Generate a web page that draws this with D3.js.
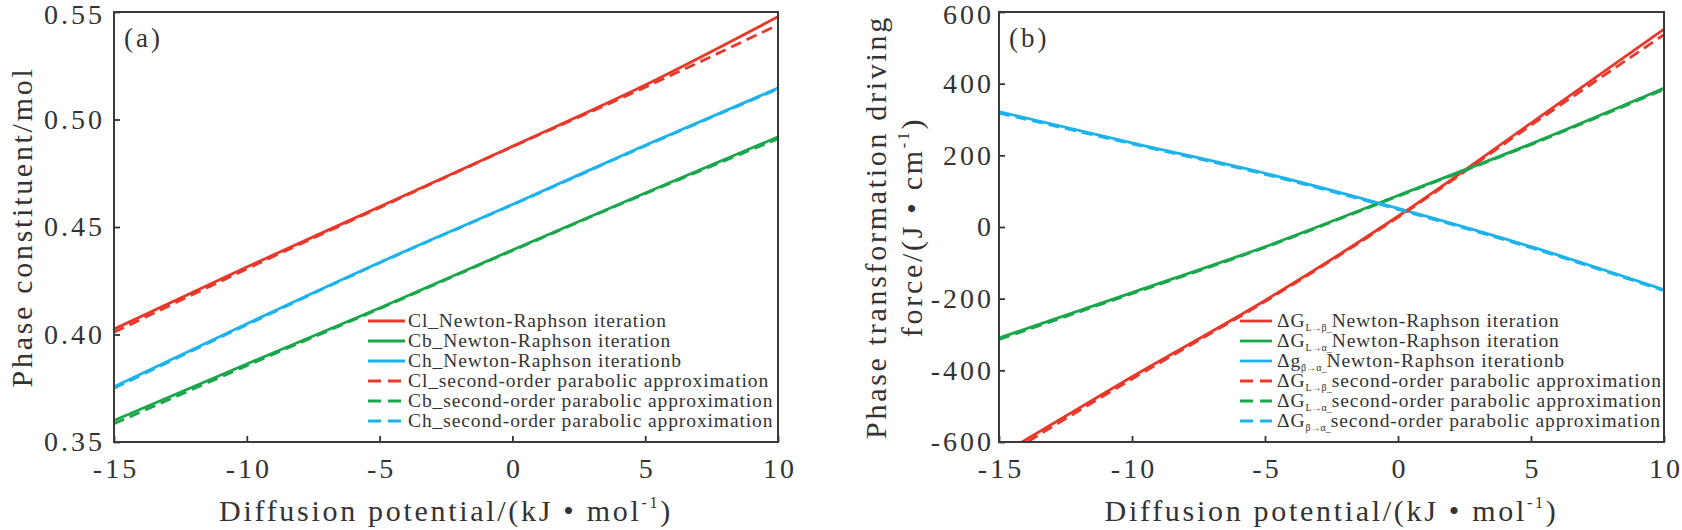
<!DOCTYPE html>
<html><head><meta charset="utf-8">
<script src="https://cdn.jsdelivr.net/npm/d3@7"></script>
<style>
body{margin:0;background:#fff;}
svg text{font-family:"Liberation Serif","Times New Roman",serif;fill:#333;}
</style></head>
<body><svg id="c" width="1682" height="530"></svg>
<script>
// ---------- data ----------
const xVals = [-15, -10, -5, 0, 5, 10];
const xTicks = [-15, -10, -5, 0, 5, 10];

// panel (a): phase constituent / mol
const clNewton = [0.4025, 0.4314, 0.4594, 0.4875, 0.5160, 0.5478];
const cbNewton = [0.3600, 0.3863, 0.4123, 0.4393, 0.4658, 0.4919];
const chNewton = [0.3757, 0.4050, 0.4335, 0.4605, 0.4880, 0.5146];
const clParab  = [0.4010, 0.4305, 0.4590, 0.4873, 0.5150, 0.5440];
const cbParab  = [0.3585, 0.3855, 0.4120, 0.4390, 0.4655, 0.4910];
const chParab  = [0.3750, 0.4045, 0.4333, 0.4603, 0.4877, 0.5142];
const aYTicks = [0.35, 0.40, 0.45, 0.50, 0.55];

// panel (b): phase transformation driving force
const gLbNewton = [-638, -418, -205, 30, 290, 552];
const gLaNewton = [-310, -183, -55, 88, 232, 387];
const gbaNewton = [322, 235, 150, 52, -55, -175];
const gLbParab  = [-648, -424, -208, 27, 284, 537];
const gLaParab  = [-314, -186, -57, 86, 230, 384];
const gbaParab  = [318, 232, 147, 49, -58, -178];
const bYTicks = [-600, -400, -200, 0, 200, 400, 600];

const RED = "#e6392b", GREEN = "#1aa64b", BLUE = "#1db3ea";

const svg = d3.select("#c");

function panel(opt){
  const g = svg.append("g");
  const x = d3.scaleLinear().domain([-15, 10]).range([opt.left, opt.right]);
  const y = d3.scaleLinear().domain(opt.yDomain).range([opt.bottom, opt.top]);
  const clipId = "clip" + opt.id;
  svg.append("clipPath").attr("id", clipId).append("rect")
    .attr("x", opt.left).attr("y", opt.top)
    .attr("width", opt.right - opt.left).attr("height", opt.bottom - opt.top);

  const line = d3.line().x((d,i)=>x(xVals[i])).y(d=>y(d)).curve(d3.curveMonotoneX);
  const lines = g.append("g").attr("clip-path", `url(#${clipId})`);
  opt.series.forEach(s=>{
    lines.append("path").attr("d", line(s.values)).attr("fill","none")
      .attr("stroke", s.color).attr("stroke-width", 2.8)
      .attr("stroke-dasharray", s.dash ? "11,6" : null);
  });

  // axes
  const xa = d3.axisBottom(x).tickValues(xTicks).tickFormat(d=>String(d))
    .tickSizeInner(-6).tickSizeOuter(0).tickPadding(16);
  const gx = g.append("g").attr("transform", `translate(0,${opt.bottom})`).call(xa);
  const ya = d3.axisLeft(y).tickValues(opt.yTicks).tickFormat(opt.yFormat)
    .tickSizeInner(-6).tickSizeOuter(0).tickPadding(opt.yPad);
  const gy = g.append("g").attr("transform", `translate(${opt.left},0)`).call(ya);
  [gx, gy].forEach(a=>{
    a.select(".domain").remove();
    a.selectAll("line").attr("stroke","#333").attr("stroke-width",1.8);
    a.selectAll("text").style("font-size","28px").style("letter-spacing","3px")
      .style("font-family",'"Liberation Serif",serif').attr("fill","#333");
  });
  gx.selectAll("text").attr("dx", "1.5px");
  // keep the top tick label inside the picture
  gy.selectAll(".tick").filter(d => d === opt.yDomain[1]).select("text").attr("dy", "0.42em");

  // frame
  g.append("rect").attr("x", opt.left).attr("y", opt.top)
    .attr("width", opt.right - opt.left).attr("height", opt.bottom - opt.top)
    .attr("fill","none").attr("stroke","#3a3a3a").attr("stroke-width",2);

  // panel label
  g.append("text").attr("x", opt.left + 10).attr("y", 47).text(opt.label)
    .style("font-size","27px").style("letter-spacing","3px");

  // x title
  const xt = g.append("text").attr("x", (opt.left+opt.right)/2).attr("y", 521)
    .attr("text-anchor","middle").style("font-size","30px").style("letter-spacing","2.7px");
  xt.append("tspan").text("Diffusion potential/(kJ \u2022 mol");
  xt.append("tspan").text("-1").style("font-size","16px").attr("dy", -13);
  xt.append("tspan").text(")").attr("dy", 13);

  // legend
  const lg = g.append("g");
  opt.series.forEach((s,i)=>{
    const cy = opt.legTop + i*20;
    lg.append("line").attr("x1", opt.legX1).attr("x2", opt.legX2)
      .attr("y1", cy).attr("y2", cy).attr("stroke", s.color).attr("stroke-width", 2.8)
      .attr("stroke-dasharray", s.dash ? "13,7" : null);
    const t = lg.append("text").attr("x", opt.legText).attr("y", cy + 6)
      .style("font-size","19.5px").style("letter-spacing","0.9px");
    s.label.forEach(p=>{
      const ts = t.append("tspan").text(p.t);
      if (p.sub) ts.style("font-size","10px").attr("dy", 4).style("letter-spacing","0px");
      if (p.back) ts.attr("dy", -4);
    });
  });
  return {g, x, y};
}

const a = panel({
  id:"a", left:114, right:778, top:12, bottom:442,
  yDomain:[0.35, 0.55], yTicks:aYTicks, yFormat:d3.format(".2f"), yPad:9,
  label:"(a)", legX1:368, legX2:405, legText:408, legTop:321,
  series:[
    {values:clNewton, color:RED, dash:false, label:[{t:"Cl_Newton-Raphson iteration"}]},
    {values:cbNewton, color:GREEN, dash:false, label:[{t:"Cb_Newton-Raphson iteration"}]},
    {values:chNewton, color:BLUE, dash:false, label:[{t:"Ch_Newton-Raphson iterationb"}]},
    {values:clParab, color:RED, dash:true, label:[{t:"Cl_second-order parabolic approximation"}]},
    {values:cbParab, color:GREEN, dash:true, label:[{t:"Cb_second-order parabolic approximation"}]},
    {values:chParab, color:BLUE, dash:true, label:[{t:"Ch_second-order parabolic approximation"}]}
  ]
});

const b = panel({
  id:"b", left:999, right:1664, top:12, bottom:442,
  yDomain:[-600, 600], yTicks:bYTicks, yFormat:d=>String(d), yPad:5,
  label:"(b)", legX1:1240, legX2:1272, legText:1277, legTop:321,
  series:[
    {values:gLbNewton, color:RED, dash:false, label:[{t:"\u0394G"},{t:"L\u2192\u03b2_",sub:true},{t:"Newton-Raphson iteration",back:true}]},
    {values:gLaNewton, color:GREEN, dash:false, label:[{t:"\u0394G"},{t:"L\u2192\u03b1_",sub:true},{t:"Newton-Raphson iteration",back:true}]},
    {values:gbaNewton, color:BLUE, dash:false, label:[{t:"\u0394g"},{t:"\u03b2\u2192\u03b1_",sub:true},{t:"Newton-Raphson iterationb",back:true}]},
    {values:gLbParab, color:RED, dash:true, label:[{t:"\u0394G"},{t:"L\u2192\u03b2_",sub:true},{t:"second-order parabolic approximation",back:true}]},
    {values:gLaParab, color:GREEN, dash:true, label:[{t:"\u0394G"},{t:"L\u2192\u03b1_",sub:true},{t:"second-order parabolic approximation",back:true}]},
    {values:gbaParab, color:BLUE, dash:true, label:[{t:"\u0394G"},{t:"\u03b2\u2192\u03b1_",sub:true},{t:"second-order parabolic approximation",back:true}]}
  ]
});

// y titles
svg.append("text").attr("transform","translate(32,227) rotate(-90)")
  .attr("text-anchor","middle").style("font-size","30px").style("letter-spacing","2.7px")
  .text("Phase constituent/mol");
svg.append("text").attr("transform","translate(886,227) rotate(-90)")
  .attr("text-anchor","middle").style("font-size","30px").style("letter-spacing","2.7px")
  .text("Phase transformation driving");
const yt2 = svg.append("text").attr("transform","translate(922,227) rotate(-90)")
  .attr("text-anchor","middle").style("font-size","30px").style("letter-spacing","2.7px");
yt2.append("tspan").text("force/(J \u2022 cm");
yt2.append("tspan").text("-1").style("font-size","16px").attr("dy", -13);
yt2.append("tspan").text(")").attr("dy", 13);
</script></body></html>
